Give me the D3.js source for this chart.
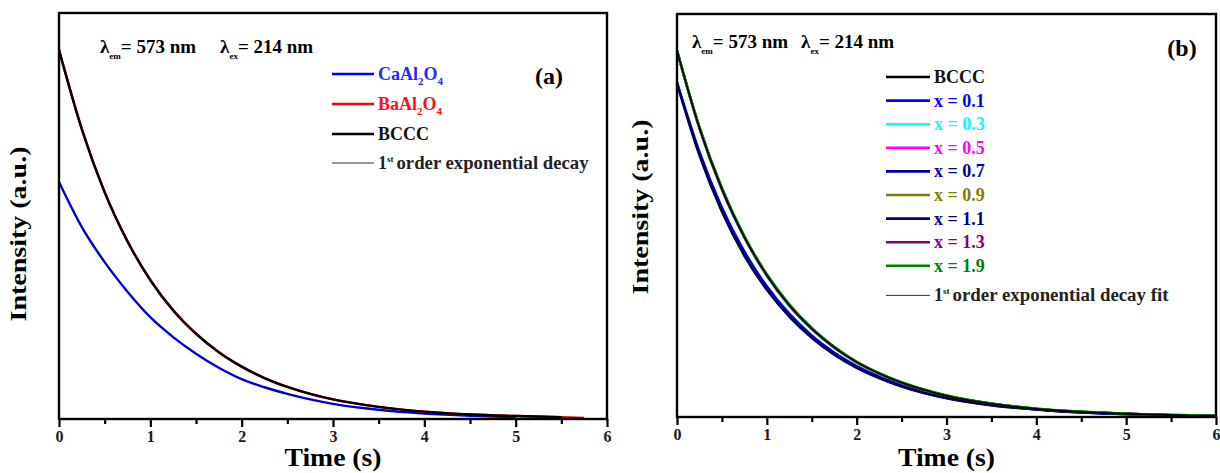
<!DOCTYPE html>
<html><head><meta charset="utf-8">
<script src="https://cdn.jsdelivr.net/npm/d3@7"></script>
<style>
html,body{margin:0;padding:0;background:#fff;}
svg{display:block;}
text{font-family:"Liberation Serif","Times New Roman",serif;font-weight:bold;}
</style></head>
<body>
<svg id="chart" width="1220" height="473"></svg>
<script>
// ---------- data ----------
const xTicks = [0,1,2,3,4,5,6];
const timeA = [0,0.25,0.5,0.75,1,1.25,1.5,1.75,2,2.25,2.5,2.75,3,3.5,4,4.5,5,5.5,5.75];
const timeB = [0,0.25,0.5,0.75,1,1.25,1.5,1.75,2,2.25,2.5,2.75,3,3.5,4,4.5,5,5.5,6];

// panel (a)
const caAl2O4 = [0.642,0.52,0.425,0.345,0.276,0.222,0.177,0.139,0.108,0.086,0.068,0.053,0.041,0.025,0.015,0.009,0.005,null,null];
const baAl2O4 = [1.0,0.786,0.615,0.482,0.377,0.295,0.231,0.181,0.142,0.111,0.087,0.068,0.053,0.033,0.020,0.012,0.008,0.005,0.003];
const bcccA   = [1.0,0.785,0.614,0.481,0.376,0.294,0.231,0.181,0.142,0.111,0.087,0.068,0.053,0.033,0.020,0.012,0.008,0.005,null];

// panel (b)
const bcccB = [1.0,0.788,0.621,0.490,0.386,0.304,0.240,0.189,0.149,0.118,0.093,0.073,0.057,0.036,0.022,0.014,0.009,0.005,0.003];
const x01 = [0.914,0.724,0.572,0.452,0.357,0.282,0.223,0.176,0.139,0.110,0.087,0.068,0.054,0.033,0.021,0.013,0.008,0.005,0.003];
const x03 = [1.0,0.787,0.620,0.489,0.385,0.303,0.239,0.189,0.149,0.118,0.093,0.073,0.057,0.036,0.022,0.014,0.009,0.005,0.003];
const x05 = [1.0,0.789,0.622,0.491,0.387,0.305,0.241,0.190,0.150,0.118,0.094,0.074,0.058,0.036,0.022,0.014,0.009,0.005,0.003];
const x07 = [0.912,0.716,0.562,0.442,0.349,0.275,0.217,0.171,0.135,0.107,0.084,0.066,0.052,0.032,0.020,0.012,0.008,0.005,0.003];
const x09 = [1.0,0.790,0.623,0.492,0.388,0.306,0.242,0.191,0.150,0.119,0.094,0.074,0.058,0.036,0.023,0.014,0.009,0.005,0.003];
const x11 = [0.910,0.714,0.560,0.440,0.347,0.274,0.216,0.170,0.134,0.106,0.083,0.065,0.051,0.032,0.020,0.012,0.008,0.005,0.003];
const x13 = [1.0,0.789,0.622,0.491,0.387,0.305,0.241,0.190,0.150,0.119,0.094,0.074,0.058,0.036,0.022,0.014,0.009,0.005,0.003];
const x19 = [1.0,0.792,0.626,0.494,0.390,0.308,0.243,0.192,0.151,0.120,0.095,0.075,0.059,0.037,0.023,0.015,0.009,0.006,0.003];

const seriesA = [
  {name:"CaAl2O4", values:caAl2O4, color:"#0000ff", text:"#2626ff"},
  {name:"BaAl2O4", values:baAl2O4, color:"#ff0000", text:"#ff1010"},
  {name:"BCCC",    values:bcccA,   color:"#000000", text:"#111111"}
];
const seriesB = [
  {name:"BCCC",    values:bcccB, color:"#000000"},
  {name:"x = 0.1", values:x01,   color:"#0000ff"},
  {name:"x = 0.3", values:x03,   color:"#00ffff"},
  {name:"x = 0.5", values:x05,   color:"#ff00ff"},
  {name:"x = 0.7", values:x07,   color:"#0000a0"},
  {name:"x = 0.9", values:x09,   color:"#808000"},
  {name:"x = 1.1", values:x11,   color:"#000080"},
  {name:"x = 1.3", values:x13,   color:"#800080"},
  {name:"x = 1.9", values:x19,   color:"#008000"}
];

// ---------- drawing ----------
const svg = d3.select("#chart");

function panel(cfg){
  const g = svg.append("g");
  const x = d3.scaleLinear().domain([0,6]).range([cfg.left, cfg.right]);
  const y = d3.scaleLinear().domain([0,1.1]).range([cfg.bottom, cfg.top]);
  const clipId = "clip"+cfg.id;
  g.append("clipPath").attr("id",clipId).append("rect")
    .attr("x",cfg.left).attr("y",cfg.top).attr("width",cfg.right-cfg.left).attr("height",cfg.bottom-cfg.top);

  const line = d3.line()
    .defined(d=>d[1]!=null)
    .x(d=>x(d[0])).y(d=>y(d[1]))
    .curve(d3.curveMonotoneX);

  const curves = g.append("g").attr("clip-path",`url(#${clipId})`);
  cfg.series.forEach(s=>{
    const pts = cfg.time.map((t,i)=>[t,s.values[i]]);
    curves.append("path").attr("d",line(pts)).attr("fill","none")
      .attr("stroke",s.color).attr("stroke-width",2.4);
  });
  // 1st order exponential decay fits (thin black)
  cfg.series.forEach(s=>{
    const pts = cfg.time.map((t,i)=>[t,s.values[i]]);
    curves.append("path").attr("d",line(pts)).attr("fill","none")
      .attr("stroke","#000").attr("stroke-width",0.7).attr("stroke-opacity",0.6);
  });

  // frame
  g.append("rect").attr("x",cfg.left).attr("y",cfg.top)
    .attr("width",cfg.right-cfg.left).attr("height",cfg.bottom-cfg.top)
    .attr("fill","none").attr("stroke","#000").attr("stroke-width",2.4);

  // x axis
  const ax = d3.axisBottom(x).tickValues(xTicks).tickFormat(d3.format("d")).tickSize(8).tickPadding(4);
  const axg = g.append("g").attr("transform",`translate(0,${cfg.bottom})`).call(ax);
  axg.select(".domain").remove();
  axg.selectAll(".tick line").attr("stroke","#000").attr("stroke-width",2.2);
  axg.selectAll(".tick text").attr("font-size",16).attr("fill","#1a1a1a")
     .attr("font-family","Liberation Serif, serif").attr("font-weight","bold");
  const minor = d3.axisBottom(x).tickValues(d3.range(0.5,6,1)).tickFormat("").tickSize(5);
  const mg = g.append("g").attr("transform",`translate(0,${cfg.bottom})`).call(minor);
  mg.select(".domain").remove();
  mg.selectAll(".tick line").attr("stroke","#000").attr("stroke-width",2.2);

  // axis titles
  g.append("text").attr("x",(cfg.left+cfg.right)/2).attr("y",cfg.xty)
    .attr("text-anchor","middle").attr("font-size",25)
    .attr("textLength",97).attr("lengthAdjust","spacingAndGlyphs").text("Time (s)");
  g.append("text").attr("transform",`translate(${cfg.ylx},${cfg.lyc}) rotate(-90)`)
    .attr("text-anchor","middle").attr("font-size",24)
    .attr("textLength",175).attr("lengthAdjust","spacingAndGlyphs").text("Intensity (a.u.)");

  // lambda annotation
  const lam = g.append("text").attr("x",cfg.lamX).attr("y",cfg.lamY).attr("font-size",19);
  lam.append("tspan").text("λ");
  lam.append("tspan").attr("font-size",9).attr("dy",6).text("em");
  lam.append("tspan").attr("dy",-6).text("= 573 nm");
  lam.append("tspan").attr("dx",cfg.lamGap).text("λ");
  lam.append("tspan").attr("font-size",9).attr("dy",6).text("ex");
  lam.append("tspan").attr("dy",-6).text("= 214 nm");

  // panel label
  g.append("text").attr("x",cfg.labX).attr("y",cfg.labY).attr("text-anchor","middle")
    .attr("font-size",24).text(cfg.label);

  return {g,x,y};
}

const A = panel({id:"a", left:59, right:607, top:13, bottom:419, time:timeA, series:seriesA,
  ylx:26, lyc:234, xty:466, lamX:100, lamY:53, lamGap:24, labX:549, labY:84, label:"(a)"});
const B = panel({id:"b", left:677, right:1216, top:14, bottom:417, time:timeB, series:seriesB,
  ylx:648, lyc:207, xty:466, lamX:692, lamY:48, lamGap:13, labX:1182, labY:56, label:"(b)"});

// ---------- legends ----------
function subText(sel, name){
  const m = name.match(/^([A-Za-z]+)(\d)([A-Za-z]+)(\d)$/);
  if(!m){ sel.text(name); return; }
  sel.append("tspan").text(m[1]);
  sel.append("tspan").attr("font-size",11).attr("dy",5).text(m[2]);
  sel.append("tspan").attr("dy",-5).text(m[3]);
  sel.append("tspan").attr("font-size",11).attr("dy",5).text(m[4]);
}

// legend (a)
const legA = svg.append("g");
const rowsA = [74,104,134];
seriesA.forEach((s,i)=>{
  legA.append("line").attr("x1",332).attr("x2",374).attr("y1",rowsA[i]).attr("y2",rowsA[i])
    .attr("stroke",s.color).attr("stroke-width",2.6);
  const t = legA.append("text").attr("x",378).attr("y",rowsA[i]+6).attr("font-size",18).attr("fill",s.text);
  subText(t, s.name);
});
legA.append("line").attr("x1",332).attr("x2",374).attr("y1",163).attr("y2",163)
  .attr("stroke","#333").attr("stroke-width",1);
const fa = legA.append("text").attr("x",378).attr("y",169).attr("font-size",18).attr("fill","#222");
fa.append("tspan").text("1");
fa.append("tspan").attr("font-size",9).attr("dy",-7).text("st");
fa.append("tspan").attr("dy",7).attr("dx",3).attr("textLength",192).attr("lengthAdjust","spacingAndGlyphs")
  .text("order exponential decay");

// legend (b)
const legB = svg.append("g");
const rowsB = seriesB.map((d,i)=>77 + i*23.6);
seriesB.forEach((s,i)=>{
  legB.append("line").attr("x1",886).attr("x2",930).attr("y1",rowsB[i]).attr("y2",rowsB[i])
    .attr("stroke",s.color).attr("stroke-width",2.6);
  legB.append("text").attr("x",934).attr("y",rowsB[i]+6).attr("font-size",18)
    .attr("fill",s.color==="#000000"?"#111":s.color).text(s.name);
});
const fyB = 77 + 9*23.6 + 6;
legB.append("line").attr("x1",886).attr("x2",930).attr("y1",fyB).attr("y2",fyB)
  .attr("stroke","#333").attr("stroke-width",1);
const fb = legB.append("text").attr("x",934).attr("y",fyB+6).attr("font-size",18).attr("fill","#222");
fb.append("tspan").text("1");
fb.append("tspan").attr("font-size",9).attr("dy",-7).text("st");
fb.append("tspan").attr("dy",7).attr("dx",3).attr("textLength",216).attr("lengthAdjust","spacingAndGlyphs")
  .text("order exponential decay fit");
</script>
</body></html>
